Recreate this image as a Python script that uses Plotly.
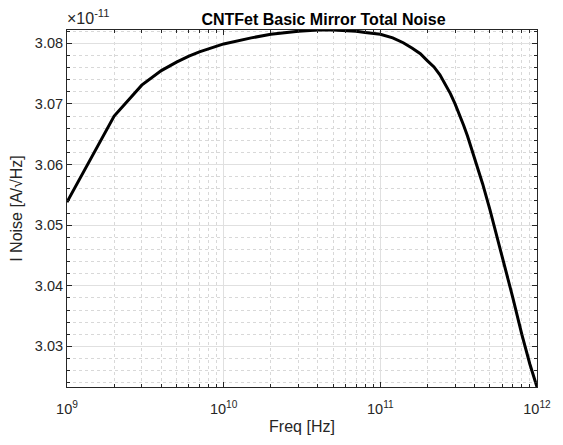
import plotly.graph_objects as go

# Data (current noise in units of 1e-11 A/sqrt(Hz))
freq_hz = [1e9, 2e9, 3e9, 4e9, 5e9, 6e9, 7e9, 8e9, 9e9, 1e10,
           1.5e10, 2e10, 3e10, 4e10, 5e10, 6e10, 7e10, 8e10, 9e10, 1e11,
           1.2e11, 1.4e11, 1.6e11, 1.8e11, 2e11, 2.2e11, 2.4e11, 2.6e11, 2.8e11, 3e11,
           3.2e11, 3.4e11, 3.6e11, 4e11, 4.5e11, 5e11, 6e11, 7e11, 8e11, 9e11, 1e12]
noise_e11 = [3.0538, 3.0680, 3.0731, 3.0755, 3.0769, 3.0779, 3.0786, 3.0791, 3.0795, 3.0799,
             3.0809, 3.0815, 3.0820, 3.0822, 3.0822, 3.0821, 3.0820, 3.0818, 3.0817, 3.0815,
             3.0809, 3.0801, 3.0792, 3.0783, 3.0771, 3.0761, 3.0748, 3.0733, 3.0717, 3.0700,
             3.0683, 3.0665, 3.0647, 3.0610, 3.0568, 3.0526, 3.0450, 3.0381, 3.0320, 3.0271,
             3.0233]

x_tick_vals = [1e9, 1e10, 1e11, 1e12]
x_tick_text = ["10<sup>9</sup>", "10<sup>10</sup>", "10<sup>11</sup>", "10<sup>12</sup>"]
y_tick_vals = [3.03, 3.04, 3.05, 3.06, 3.07, 3.08]
y_tick_text = ["3.03", "3.04", "3.05", "3.06", "3.07", "3.08"]

title_text = "CNTFet Basic Mirror Total Noise"
x_label = "Freq [Hz]"
y_label = "I Noise [A/√Hz]"
exp_label = "×10<sup>-11</sup>"

W, H = 563, 445
ML, MR, MT, MB = 67, 15.5, 30, 51.5

axis_col = "#262626"
grid_col = "#e0e0e0"
minor_col = "#d8d8d8"
font_fam = "Liberation Sans, Arial, Helvetica, sans-serif"

minor_x = [m * 10 ** e for e in range(9, 12) for m in range(2, 10)]

fig = go.Figure()
fig.add_trace(go.Scatter(x=freq_hz, y=noise_e11, mode="lines",
                         line=dict(color="black", width=3), showlegend=False))

fig.update_layout(
    width=W, height=H,
    margin=dict(l=ML, r=MR, t=MT, b=MB),
    paper_bgcolor="white", plot_bgcolor="white",
    font=dict(family=font_fam, size=14.5, color=axis_col),
    title=dict(text="<b>" + title_text + "</b>", x=(ML + (W - MR)) / 2 / W, xanchor="center",
               xref="paper", y=1 - 19 / H, yanchor="middle", yref="container",
               font=dict(size=16, color="black", family=font_fam)),
)

fig.update_xaxes(
    type="log", range=[9, 12],
    tickvals=x_tick_vals, ticktext=x_tick_text,
    showline=True, linecolor=axis_col, linewidth=1, mirror="allticks",
    ticks="inside", ticklen=5, tickcolor=axis_col,
    showgrid=True, gridcolor=grid_col, gridwidth=1,
    minor=dict(tickvals=minor_x, ticks="inside", ticklen=3, tickcolor=axis_col,
               showgrid=True, gridcolor=minor_col, griddash="dot", gridwidth=1),
    title=dict(text=x_label, font=dict(size=16, color=axis_col), standoff=4),
    tickfont=dict(size=14.5, color=axis_col),
    ticklabelstandoff=9,
    zeroline=False,
)
fig.update_yaxes(
    range=[3.0233, 3.0822],
    tickvals=y_tick_vals, ticktext=y_tick_text,
    showline=True, linecolor=axis_col, linewidth=1, mirror="allticks",
    ticks="inside", ticklen=5, tickcolor=axis_col,
    showgrid=True, gridcolor=grid_col, gridwidth=1,
    minor=dict(dtick=0.002, tick0=3.03, ticks="inside", ticklen=3, tickcolor=axis_col,
               showgrid=True, gridcolor=minor_col, griddash="dot", gridwidth=1),
    title=dict(text=y_label, font=dict(size=16, color=axis_col), standoff=8),
    tickfont=dict(size=14.5, color=axis_col),
    zeroline=False,
)

fig.add_annotation(text=exp_label, xref="paper", yref="paper", x=0, y=1,
                   xanchor="left", yanchor="bottom", showarrow=False, yshift=1, xshift=-2,
                   font=dict(size=16, color=axis_col, family=font_fam))

fig.write_html("out.html")
